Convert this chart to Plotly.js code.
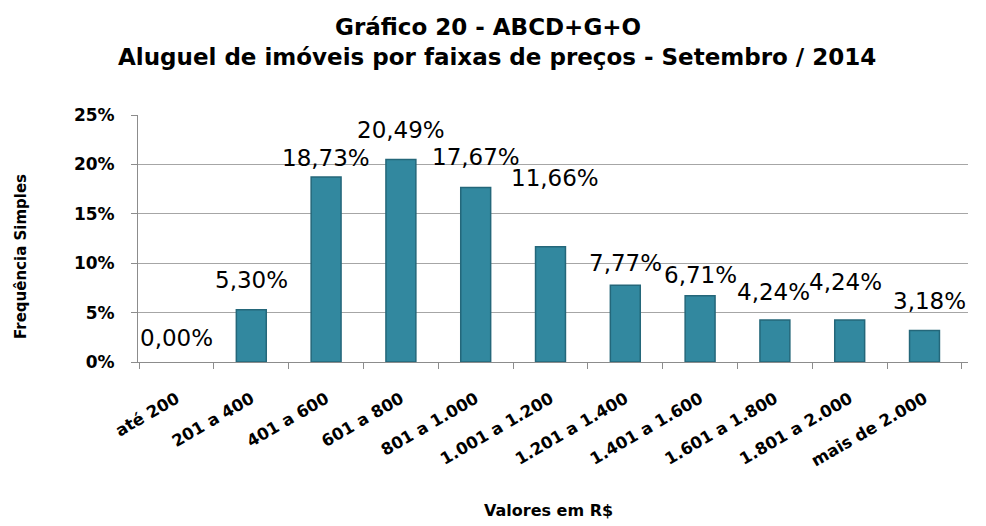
<!DOCTYPE html>
<html><head><meta charset="utf-8">
<script src="https://cdn.plot.ly/plotly-3.0.1.min.js"></script>
<style>html,body{margin:0;padding:0;background:#fff}#chart{width:986px;height:526px}</style>
</head><body><div id="chart"></div>
<script>
const categories = ["até 200","201 a 400","401 a 600","601 a 800","801 a 1.000","1.001 a 1.200","1.201 a 1.400","1.401 a 1.600","1.601 a 1.800","1.801 a 2.000","mais de 2.000"];
const values = [0.00, 5.30, 18.73, 20.49, 17.67, 11.66, 7.77, 6.71, 4.24, 4.24, 3.18];
const yTickVals = [0, 5, 10, 15, 20, 25];
const yTickText = ["0%","5%","10%","15%","20%","25%"];
const titleLine1 = "Gráfico 20 - ABCD+G+O";
const titleLine2 = "Aluguel de imóveis por faixas de preços - Setembro / 2014";
const xTitle = "Valores em R$";
const yTitle = "Frequência Simples";
// label placement (pixels) — style only
const labelYShift = [24, 30, 19, 30, 30, 69, 22, 21, 28, 38, 30];
const labelXShift = [0, 0, 0, 0, 0, 4, 0, 0, -1, -4, 5];

const fontFam = "'DejaVu Sans', Verdana, sans-serif";
const trace = {
  type: 'bar', x: categories, y: values,
  marker: {color: '#32889F', line: {color: '#24677A', width: values.map(v => v > 0 ? 1.5 : 0)}},
  width: 0.4, hoverinfo: 'none'
};
const annotations = categories.map((c, i) => ({
  x: c, y: values[i], xref: 'x', yref: 'y',
  text: values[i].toFixed(2).replace('.', ',') + '%',
  showarrow: false, yshift: labelYShift[i], xshift: labelXShift[i],
  font: {family: fontFam, size: 23, color: '#000'}
}));
annotations.push({
  text: '<b>' + titleLine2 + '</b>', xref: 'paper', yref: 'paper',
  x: 0.4325, y: 1.235, xanchor: 'center', yanchor: 'middle', showarrow: false,
  font: {family: fontFam, size: 23, color: '#000'}
});
annotations.push({
  text: '<b>' + xTitle + '</b>', xref: 'paper', yref: 'paper',
  x: 0.494, y: -0.603, xanchor: 'center', yanchor: 'middle', showarrow: false,
  font: {family: fontFam, size: 16, color: '#000'}
});
annotations.push({
  text: '<b>' + yTitle + '</b>', xref: 'paper', yref: 'paper', textangle: -90,
  x: -0.141, y: 0.429, xanchor: 'center', yanchor: 'middle', showarrow: false,
  font: {family: fontFam, size: 15, color: '#000'}
});
const layout = {
  width: 986, height: 526,
  margin: {l: 138, r: 18, t: 115, b: 164},
  paper_bgcolor: '#fff', plot_bgcolor: '#fff',
  showlegend: false,
  title: {text: '<b>' + titleLine1 + '</b>',
    x: 0.495, xanchor: 'center', y: 0.949, yanchor: 'middle',
    font: {family: fontFam, size: 23, color: '#000'}},
  xaxis: {
    type: 'category', tickangle: -30,
    tickfont: {family: fontFam, size: 16.5, color: '#000', weight: 'bold'},
    ticks: 'outside', tickson: 'boundaries', ticklen: 6, tickcolor: '#8c8c8c',
    ticklabelstandoff: 20,
    showline: true, linecolor: '#8c8c8c', linewidth: 1,
    fixedrange: true
  },
  yaxis: {
    range: [0, 25], tickvals: yTickVals, ticktext: yTickText,
    tickfont: {family: fontFam, size: 17, color: '#000', weight: 'bold'},
    ticks: 'outside', ticklen: 6, tickcolor: '#8c8c8c',
    ticklabelstandoff: 13,
    showgrid: true, gridcolor: '#a6a6a6', gridwidth: 1,
    showline: true, linecolor: '#8c8c8c', linewidth: 1, zeroline: false,
    fixedrange: true
  },
  annotations: annotations
};
Plotly.newPlot('chart', [trace], layout, {displayModeBar: false, staticPlot: true});
</script></body></html>
